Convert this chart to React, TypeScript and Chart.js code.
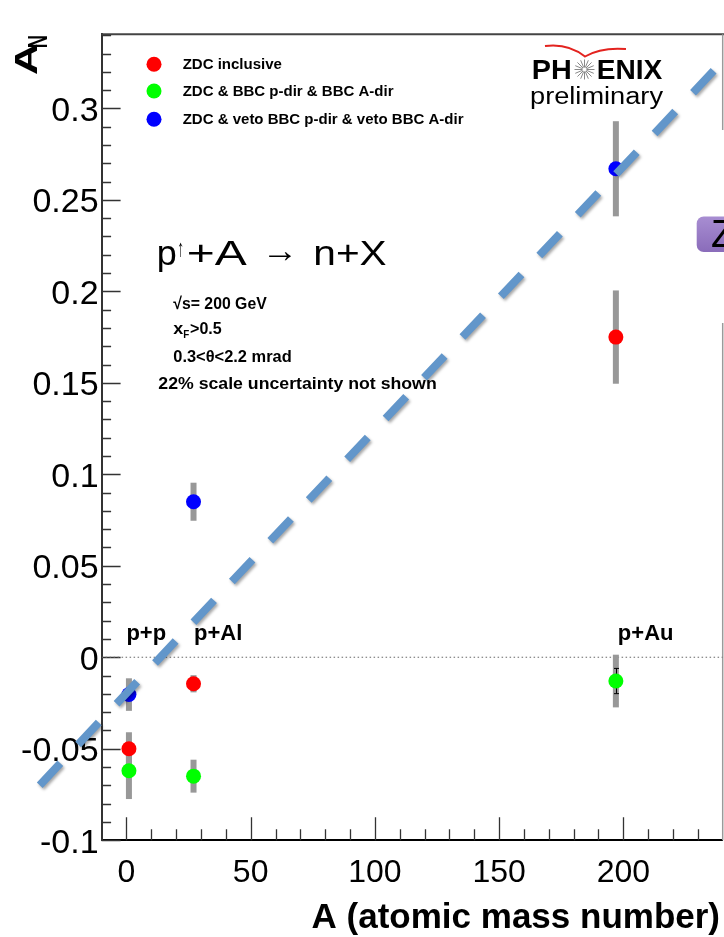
import React, { useEffect, useRef } from 'react';
import { Chart, registerables } from 'chart.js';

Chart.register(...registerables);

const FONT = '"Liberation Sans", Arial, Helvetica, sans-serif';

// ---- data ----
const systems = ['p+p', 'p+Al', 'p+Au'];
const massNumbers = [1, 27, 197];

const seriesNames = [
  'ZDC inclusive',
  'ZDC & BBC p-dir & BBC A-dir',
  'ZDC & veto BBC p-dir & veto BBC A-dir',
];
const seriesColors = ['#ff0000', '#00ff00', '#0000ff'];

const inclusiveAN = [-0.05, -0.0145, 0.175];
const inclusiveSys = [0.009, 0.0047, 0.0255];
const inclusiveStat = [0, 0, 0];

const bbcBothAN = [-0.062, -0.065, -0.013];
const bbcBothSys = [0.0155, 0.009, 0.0144];
const bbcBothStat = [0, 0, 0.0069];

const vetoAN = [-0.0204, 0.085, 0.267];
const vetoSys = [0.0089, 0.0104, 0.026];
const vetoStat = [0, 0, 0];

const fitA = [-34.9, 236.8];
const fitAN = [-0.0699, 0.3212];

const xTickValues = [0, 50, 100, 150, 200];
const xTickLabels = ['0', '50', '100', '150', '200'];
const yTickValues = [-0.1, -0.05, 0, 0.05, 0.1, 0.15, 0.2, 0.25, 0.3];
const yTickLabels = ['-0.1', '-0.05', '0', '0.05', '0.1', '0.15', '0.2', '0.25', '0.3'];
const xMin = -10;
const xMax = 240;
const yMin = -0.1;
const yMax = 0.3405;
const xMinorStep = 10;
const yMinorStep = 0.01;

const seriesValues = [inclusiveAN, bbcBothAN, vetoAN];
const seriesSys = [inclusiveSys, bbcBothSys, vetoSys];
const seriesStat = [inclusiveStat, bbcBothStat, vetoStat];

const ZERO_IDX = 4;
const FIT_IDX = 0;

function fitText(ctx: CanvasRenderingContext2D, text: string, x: number, y: number, width: number | null, font: string, color = '#000', baseline: CanvasTextBaseline = 'alphabetic') {
  ctx.save();
  ctx.font = font;
  ctx.fillStyle = color;
  ctx.textBaseline = baseline;
  ctx.textAlign = 'left';
  const w = ctx.measureText(text).width;
  const s = width ? width / w : 1;
  ctx.translate(x, y);
  ctx.scale(s, 1);
  ctx.fillText(text, 0, 0);
  ctx.restore();
}

const decorPlugin = {
  id: 'decor',
  beforeDatasetsDraw(chart: any) {
    const { ctx, chartArea, scales } = chart;
    const xs = scales.x;
    const ys = scales.y;
    ctx.save();
    // frame top and right
    ctx.strokeStyle = '#444';
    ctx.lineWidth = 2;
    ctx.beginPath();
    ctx.moveTo(chartArea.left, chartArea.top);
    ctx.lineTo(724, chartArea.top);
    ctx.stroke();
    ctx.strokeStyle = '#9a9a9a';
    ctx.lineWidth = 1.5;
    ctx.beginPath();
    ctx.moveTo(chartArea.right, chartArea.top);
    ctx.lineTo(chartArea.right, 130);
    ctx.moveTo(chartArea.right, 323);
    ctx.lineTo(chartArea.right, chartArea.bottom);
    ctx.stroke();

    // inward ticks
    ctx.strokeStyle = '#333';
    ctx.lineWidth = 1.3;
    ctx.beginPath();
    const ny = Math.round((yMax - yMin) / yMinorStep);
    for (let i = 0; i <= ny; i++) {
      const v = yMin + i * yMinorStep;
      const major = yTickValues.some((t) => Math.abs(t - v) < 1e-6);
      const py = Math.round(ys.getPixelForValue(v)) + 0.5;
      if (py < chartArea.top + 1) continue;
      ctx.moveTo(chartArea.left, py);
      ctx.lineTo(chartArea.left + (major ? 19 : 9.5), py);
    }
    const nx = Math.round((xMax - xMin) / xMinorStep);
    for (let i = 1; i < nx; i++) {
      const v = xMin + i * xMinorStep;
      const major = xTickValues.some((t) => Math.abs(t - v) < 1e-6);
      const px = Math.round(xs.getPixelForValue(v)) + 0.5;
      ctx.moveTo(px, chartArea.bottom);
      ctx.lineTo(px, chartArea.bottom - (major ? 23 : 11));
    }
    ctx.stroke();

    // legend
    seriesNames.forEach((name, i) => {
      const ly = [64.3, 91, 119.3][i];
      ctx.fillStyle = seriesColors[i];
      ctx.beginPath();
      ctx.arc(154, ly, 7.5, 0, Math.PI * 2);
      ctx.fill();
      fitText(ctx, name, 182.7, ly + 0.8, null, `bold 15px ${FONT}`, '#000', 'middle');
    });

    // reaction
    fitText(ctx, 'p', 156.7, 265, 20, `35px ${FONT}`);
    fitText(ctx, '\u2191', 177.3, 256, 7, `24px ${FONT}`);
    fitText(ctx, '+A', 186.7, 265, 60, `35px ${FONT}`);
    fitText(ctx, '\u2192', 261.7, 262, 36.6, `35px ${FONT}`);
    fitText(ctx, 'n+X', 313.3, 265, 73.4, `35px ${FONT}`);

    // info lines
    fitText(ctx, '\u221As= 200 GeV', 173.3, 309.3, 93.4, `bold 17px ${FONT}`);
    fitText(ctx, 'x', 173.3, 334.3, 10, `bold 17px ${FONT}`);
    fitText(ctx, 'F', 183.3, 337.5, 6, `bold 10px ${FONT}`);
    fitText(ctx, '>0.5', 190, 334.3, 31.7, `bold 17px ${FONT}`);
    fitText(ctx, '0.3<\u03B8<2.2 mrad', 173.3, 361.7, 118.4, `bold 17px ${FONT}`);
    fitText(ctx, '22% scale uncertainty not shown', 158.3, 389.3, 278.4, `bold 17px ${FONT}`);

    // system labels
    const labelShift = [-2.5, 0.5, 2];
    systems.forEach((s, i) => {
      const px = xs.getPixelForValue(massNumbers[i]) + labelShift[i];
      fitText(ctx, s, px, 640, null, `bold 22px ${FONT}`);
    });

    // PHENIX logo
    fitText(ctx, 'PH', 531.7, 79.3, 40, `bold 28px ${FONT}`);
    fitText(ctx, 'ENIX', 596.7, 79.3, 65.6, `bold 28px ${FONT}`);
    ctx.strokeStyle = '#888';
    ctx.lineWidth = 1;
    ctx.beginPath();
    for (let k = 0; k < 16; k++) {
      const a = (k * Math.PI) / 8;
      ctx.moveTo(584.5 + Math.cos(a) * 2, 69.5 + Math.sin(a) * 2);
      ctx.lineTo(584.5 + Math.cos(a) * 10, 69.5 + Math.sin(a) * 10);
    }
    ctx.stroke();
    ctx.strokeStyle = '#e3231f';
    ctx.lineWidth = 2;
    ctx.beginPath();
    ctx.moveTo(545, 46);
    ctx.quadraticCurveTo(568, 43, 585, 56.5);
    ctx.quadraticCurveTo(601, 47, 626, 49);
    ctx.stroke();
    fitText(ctx, 'preliminary', 530, 103.7, 133, `23px ${FONT}`);

    // Z box
    const g = ctx.createLinearGradient(0, 216, 0, 252);
    g.addColorStop(0, '#a88ed2');
    g.addColorStop(1, '#8a6cba');
    ctx.fillStyle = g;
    ctx.beginPath();
    ctx.roundRect(696.7, 216.5, 40, 35.5, 7);
    ctx.fill();
    fitText(ctx, 'Z', 711, 247, null, `38px ${FONT}`);

    // A_N axis title
    ctx.save();
    ctx.translate(36.7, 75);
    ctx.rotate(-Math.PI / 2);
    fitText(ctx, 'A', 0, 0, 31.7, `bold 32px ${FONT}`);
    fitText(ctx, 'N', 26.7, 10, 13.3, `bold 28px ${FONT}`);
    ctx.restore();

    // x axis title
    ctx.font = `bold 35px ${FONT}`;
    ctx.fillStyle = '#000';
    ctx.textAlign = 'right';
    ctx.textBaseline = 'alphabetic';
    ctx.fillText('A (atomic mass number)', 720, 928.3);
    ctx.restore();
  },
  beforeDatasetDraw(chart: any, args: any) {
    if (args.index === FIT_IDX) {
      const ctx = chart.ctx;
      ctx.save();
      ctx.shadowColor = 'rgba(0,0,0,0.35)';
      ctx.shadowBlur = 3;
      ctx.shadowOffsetX = 1.5;
      ctx.shadowOffsetY = 2;
    }
  },
  afterDatasetDraw(chart: any, args: any) {
    const ctx = chart.ctx;
    if (args.index === FIT_IDX) {
      ctx.restore();
      return;
    }
    if (args.index !== ZERO_IDX) return;
    const xs = chart.scales.x;
    const ys = chart.scales.y;
    ctx.save();
    ctx.strokeStyle = '#989898';
    ctx.lineWidth = 6;
    ctx.lineCap = 'butt';
    seriesValues.forEach((vals, s) => {
      vals.forEach((v, i) => {
        const e = seriesSys[s][i];
        if (!e) return;
        const px = xs.getPixelForValue(massNumbers[i]);
        ctx.beginPath();
        ctx.moveTo(px, ys.getPixelForValue(v + e));
        ctx.lineTo(px, ys.getPixelForValue(v - e));
        ctx.stroke();
      });
    });
    ctx.strokeStyle = '#000';
    ctx.lineWidth = 1;
    seriesValues.forEach((vals, s) => {
      vals.forEach((v, i) => {
        const e = seriesStat[s][i];
        if (!e) return;
        const px = Math.round(xs.getPixelForValue(massNumbers[i])) + 0.5;
        const t = ys.getPixelForValue(v + e);
        const b = ys.getPixelForValue(v - e);
        ctx.beginPath();
        ctx.moveTo(px, t);
        ctx.lineTo(px, b);
        ctx.moveTo(px - 2.5, t);
        ctx.lineTo(px + 2.5, t);
        ctx.moveTo(px - 2.5, b);
        ctx.lineTo(px + 2.5, b);
        ctx.stroke();
      });
    });
    ctx.restore();
  },
};

export default function App() {
  const ref = useRef<HTMLCanvasElement>(null);
  useEffect(() => {
    if (!ref.current) return;
    const pointSets = seriesValues.map((vals, s) => ({
      type: 'scatter' as const,
      label: seriesNames[s],
      data: vals.map((v, i) => ({ x: massNumbers[i], y: v })),
      backgroundColor: seriesColors[s],
      borderColor: seriesColors[s],
      pointRadius: 7.5,
      pointBorderWidth: 0,
      pointHoverRadius: 7.5,
      order: 1,
    }));
    const chart = new Chart(ref.current, {
      type: 'scatter',
      data: {
        datasets: [
          {
            type: 'line',
            label: 'fit',
            data: fitA.map((x, i) => ({ x, y: fitAN[i] })),
            borderColor: '#6296ca',
            borderWidth: 8,
            borderDash: [30, 26],
            borderCapStyle: 'butt',
            pointRadius: 0,
            fill: false,
            tension: 0,
            clip: false,
            order: 0,
          } as any,
          ...pointSets,
          {
            type: 'line',
            label: 'zero',
            data: [{ x: xMin, y: 0 }, { x: xMax, y: 0 }],
            borderColor: '#666',
            borderWidth: 1,
            borderDash: [1.5, 2.5],
            pointRadius: 0,
            fill: false,
            order: 2,
          } as any,
        ],
      },
      options: {
        animation: false,
        responsive: false,
        events: [],
        layout: { autoPadding: false, padding: { top: 34.3, right: 1.3, left: 0, bottom: 0 } },
        plugins: { legend: { display: false }, tooltip: { enabled: false } },
        scales: {
          x: {
            type: 'linear',
            min: xMin,
            max: xMax,
            afterBuildTicks: (s: any) => {
              s.ticks = xTickValues.map((v) => ({ value: v }));
            },
            afterFit: (s: any) => {
              s.height = 96.8;
              s.paddingLeft = 0;
              s.paddingRight = 0;
            },
            ticks: {
              callback: (_v: any, i: number) => xTickLabels[i],
              font: { size: 32, family: FONT },
              color: '#000',
              padding: 14,
              maxRotation: 0,
              autoSkip: false,
            },
            grid: { display: false, drawTicks: false, tickLength: 0 },
            border: { display: true, color: '#000', width: 2 },
          },
          y: {
            type: 'linear',
            min: yMin,
            max: yMax,
            afterBuildTicks: (s: any) => {
              s.ticks = yTickValues.map((v) => ({ value: v }));
            },
            afterFit: (s: any) => {
              s.width = 101.6;
              s.paddingTop = 0;
              s.paddingBottom = 0;
            },
            ticks: {
              callback: (_v: any, i: number) => yTickLabels[i],
              font: { size: 34, family: FONT },
              color: '#000',
              padding: 3,
              labelOffset: 3,
              autoSkip: false,
            },
            grid: { display: false, drawTicks: false, tickLength: 0 },
            border: { display: true, color: '#333', width: 2 },
          },
        },
      } as any,
      plugins: [decorPlugin],
    });
    return () => chart.destroy();
  }, []);
  return (
    <div style={{ position: 'absolute', left: 0, top: 0, width: 724, height: 937, background: '#fff' }}>
      <canvas ref={ref} width={724} height={937} />
    </div>
  );
}
